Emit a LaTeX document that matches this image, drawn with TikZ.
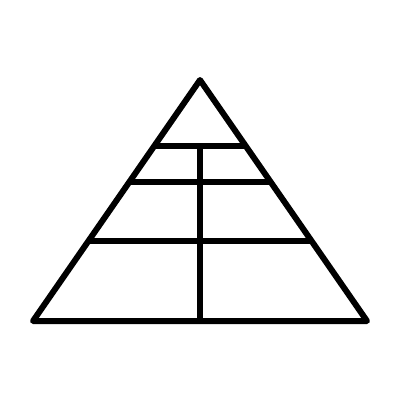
\documentclass[tikz,border=0pt]{standalone}
\usetikzlibrary{calc}
\begin{document}
\begin{tikzpicture}[x=1pt,y=-1pt,line width=6pt,line join=round,line cap=round,
  edge/.style={draw=black}]
\useasboundingbox (0,0) rectangle (400,400);
\coordinate (A) at (200,80);
\coordinate (L) at (33,321);
\coordinate (R) at (367,321);
\draw[edge] (A) -- (L) -- (R) -- cycle;
\coordinate (l1) at ($(A)!0.274!(L)$);
\coordinate (r1) at ($(A)!0.274!(R)$);
\coordinate (l2) at ($(A)!0.423!(L)$);
\coordinate (r2) at ($(A)!0.423!(R)$);
\coordinate (l3) at ($(A)!0.668!(L)$);
\coordinate (r3) at ($(A)!0.668!(R)$);
\draw[edge,line cap=butt] (l1) -- (r1);
\draw[edge,line cap=butt] (l2) -- (r2);
\draw[edge,line cap=butt] (l3) -- (r3);
\coordinate (vt) at (200,146);
\coordinate (vb) at (200,321);
\draw[edge,line cap=butt] (vt) -- (vb);
\end{tikzpicture}
\end{document}
